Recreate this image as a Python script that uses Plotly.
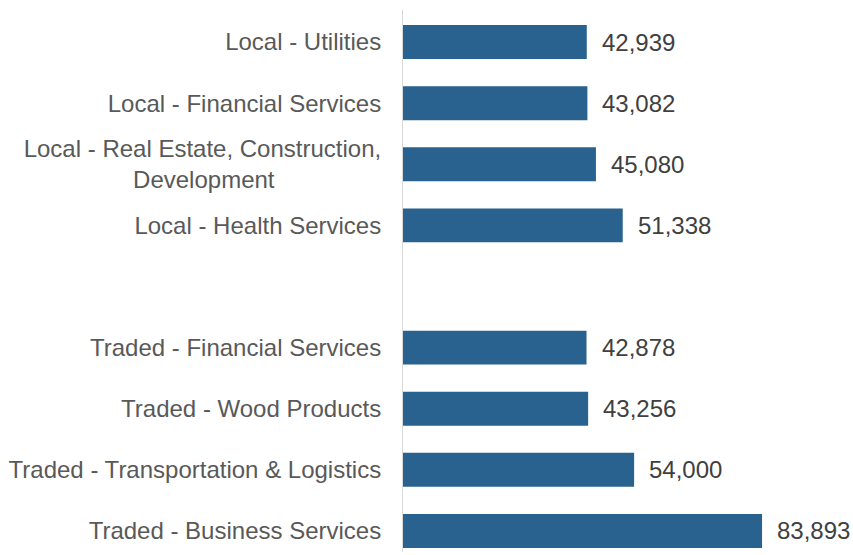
import plotly.graph_objects as go

# categories top to bottom, "" is the blank gap between local and traded
categories = [
    "Local - Utilities",
    "Local - Financial Services",
    "Local - Real Estate, Construction,<br>Development" + "\u00a0" * 16,
    "Local - Health Services",
    "",
    "Traded - Financial Services",
    "Traded - Wood Products",
    "Traded - Transportation & Logistics",
    "Traded - Business Services",
]
wages = [42939, 43082, 45080, 51338, None, 42878, 43256, 54000, 83893]
wage_labels = [f"{v:,}" if v is not None else "" for v in wages]

bar_color = "#29628E"

fig = go.Figure()
fig.add_trace(go.Bar(
    x=wages, y=categories, orientation="h",
    marker=dict(color=bar_color, line=dict(width=0)),
    width=0.556, hoverinfo="skip",
))

# value labels next to each bar
for cat, val, lab in zip(categories, wages, wage_labels):
    if val is None:
        continue
    fig.add_annotation(
        x=val, y=cat, text=lab, showarrow=False,
        xanchor="left", yanchor="middle", xshift=13,
        font=dict(size=24, color="#404040"),
    )

fig.update_layout(
    width=853, height=555,
    margin=dict(l=403, r=22, t=10, b=3, autoexpand=False),
    plot_bgcolor="white", paper_bgcolor="white",
    font=dict(family="Liberation Sans, Arial", size=24, color="#595959"),
    showlegend=False,
)
fig.update_xaxes(range=[0, 100000], visible=False, showgrid=False,
                 zeroline=False, automargin=False)
fig.update_yaxes(
    type="category", categoryorder="array", categoryarray=categories,
    range=[8.344, -0.524], automargin=False,
    showline=True, linecolor="#D9D9D9", linewidth=1,
    showgrid=False, zeroline=False, ticks="",
    ticklabelstandoff=16,
    tickfont=dict(size=24, color="#595959"),
)

# page body has a default 8px margin, drop it so the figure sits at 0,0
fig.write_html("out.html", config={"displayModeBar": False},
               post_script="document.body.style.margin='0';")
